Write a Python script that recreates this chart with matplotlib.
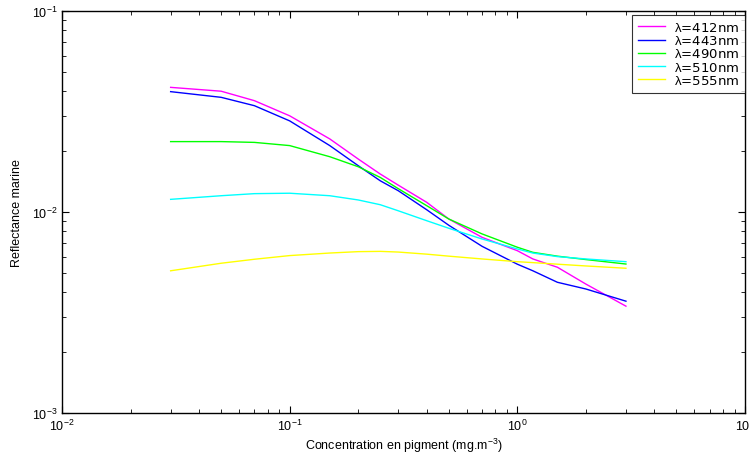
import matplotlib
matplotlib.use('Agg')
import matplotlib.pyplot as plt
from matplotlib.ticker import LogLocator, NullFormatter

plt.rcParams['font.family'] = ['Liberation Sans', 'DejaVu Sans']
plt.rcParams['mathtext.fontset'] = 'custom'
plt.rcParams['mathtext.rm'] = 'Liberation Sans'
plt.rcParams['mathtext.it'] = 'Liberation Sans'

# concentration en pigment (mg.m-3)
chl = [0.03, 0.05, 0.07, 0.1, 0.15, 0.2, 0.25, 0.3, 0.4, 0.5, 0.7, 1.0, 1.17, 1.5, 2.0, 3.0]

# reflectance marine per wavelength
r412 = [0.0417, 0.0399, 0.0358, 0.0301, 0.0231, 0.01835, 0.01545, 0.0136, 0.01117, 0.00923,
        0.00748, 0.00642, 0.00584, 0.00531, 0.00438, 0.0034]
r443 = [0.0397, 0.0372, 0.0338, 0.0284, 0.0214, 0.0170, 0.0143, 0.01276, 0.01026, 0.00859,
        0.00675, 0.0055, 0.0051, 0.00447, 0.00414, 0.0036]
r490 = [0.0224, 0.0224, 0.0222, 0.0214, 0.01884, 0.0168, 0.01486, 0.01306, 0.01075, 0.00923,
        0.00778, 0.00668, 0.0063, 0.00603, 0.0058, 0.00551]
r510 = [0.01156, 0.01205, 0.01234, 0.0124, 0.01205, 0.01148, 0.01087, 0.01014, 0.00905, 0.0083,
        0.00734, 0.00655, 0.00625, 0.006, 0.00584, 0.00566]
r555 = [0.0051, 0.00556, 0.00582, 0.00607, 0.00625, 0.00635, 0.00637, 0.00632, 0.00617, 0.00603,
        0.00584, 0.00566, 0.0056, 0.0055, 0.00539, 0.00525]

series = [(r412, '#ff00ff', r'$\lambda$=412nm'),
          (r443, '#0000ff', r'$\lambda$=443nm'),
          (r490, '#00ff00', r'$\lambda$=490nm'),
          (r510, '#00ffff', r'$\lambda$=510nm'),
          (r555, '#ffff00', r'$\lambda$=555nm')]

fig = plt.figure(figsize=(7.5, 4.6), dpi=100)
ax = fig.add_axes([0.0827, 0.1, 0.9106, 0.8739])

for vals, col, lab in series:
    ax.plot(chl, vals, color=col, linewidth=1.0, label=lab)

ax.set_xscale('log')
ax.set_yscale('log')
ax.set_xlim(1e-2, 1e1)
ax.set_ylim(1e-3, 1e-1)

ax.xaxis.set_minor_locator(LogLocator(base=10, subs=range(2, 10)))
ax.yaxis.set_minor_locator(LogLocator(base=10, subs=range(2, 10)))
ax.xaxis.set_minor_formatter(NullFormatter())
ax.yaxis.set_minor_formatter(NullFormatter())
ax.tick_params(which='both', direction='in', top=True, right=True, labelsize=9)
ax.tick_params(which='major', length=5)
ax.tick_params(which='minor', length=3)
for s in ax.spines.values():
    s.set_linewidth(1.0)

ax.set_xlabel('Concentration en pigment (mg.m$^{-3}$)', fontsize=9, labelpad=2)
ax.set_ylabel('Reflectance marine', fontsize=9, labelpad=6)

leg = ax.legend(loc='upper right', bbox_to_anchor=(1.0, 0.99), fontsize=9.5, frameon=True,
                fancybox=False, borderaxespad=0.0, handlelength=2.0, labelspacing=0.02,
                borderpad=0.45, handletextpad=0.7)
leg.get_frame().set_edgecolor('black')
leg.get_frame().set_linewidth(0.8)
for t in leg.get_texts():
    t.set_family(['DejaVu Sans'])
    t.set_fontsize(9.5)

fig.savefig('out.png', dpi=100)
